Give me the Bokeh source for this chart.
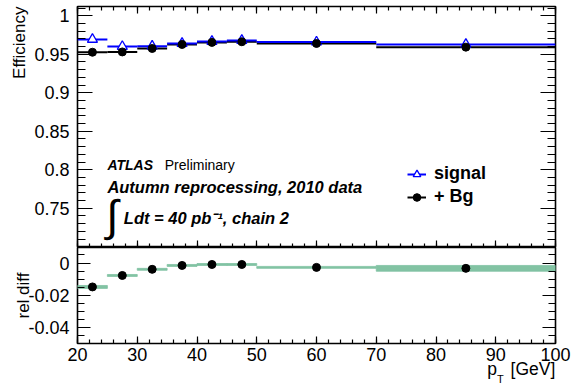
import math
import numpy as np
from bokeh.plotting import figure
from bokeh.models import (Range1d, LinearAxis, FixedTicker, CustomJSTickFormatter,
                          Legend, LegendItem, Label, Title, ColumnDataSource)
from bokeh.layouts import column
from bokeh.embed import file_html
from bokeh.resources import INLINE

# ---- data -------------------------------------------------------------
bin_lo = [20, 25, 30, 35, 40, 45, 50, 70]
bin_hi = [25, 30, 35, 40, 45, 50, 70, 100]
eff_signal = [0.9693, 0.9600, 0.9605, 0.9640, 0.9667, 0.9680, 0.9658, 0.9627]
eff_bg = [0.9526, 0.9530, 0.9575, 0.9627, 0.9654, 0.9662, 0.9640, 0.9592]
rel_diff = [-0.0148, -0.0077, -0.0039, -0.0015, -0.0009, -0.0009, -0.0027, -0.0033]
rel_diff_err = [0.0009, 0.0006, 0.0006, 0.0006, 0.0006, 0.0006, 0.0006, 0.0018]

x_ticks = [20, 30, 40, 50, 60, 70, 80, 90, 100]
eff_ticks = [0.75, 0.8, 0.85, 0.9, 0.95, 1.0]
diff_ticks = [-0.04, -0.02, 0.0]

FONT = "Liberation Sans"
BLUE = "#0000ff"
GREEN = "#82c3a3"

bin_mid = [(a + b) / 2 for a, b in zip(bin_lo, bin_hi)]
src = ColumnDataSource(dict(lo=bin_lo, hi=bin_hi, mid=bin_mid,
                            sig=eff_signal, bg=eff_bg,
                            rd=rel_diff,
                            rd_lo=[r - e for r, e in zip(rel_diff, rel_diff_err)],
                            rd_hi=[r + e for r, e in zip(rel_diff, rel_diff_err)]))

fmt = CustomJSTickFormatter(code="return String(+tick.toFixed(4));")
blank_fmt = CustomJSTickFormatter(code="return '';")

x_minor = list(range(20, 101, 2))
eff_minor = [round(v, 3) for v in np.arange(0.70, 1.0115, 0.01)]
diff_minor = [round(v, 4) for v in np.arange(-0.05, 0.0101, 0.005)]


def style_axis(ax, ticks, minor, major_in, minor_in, labels=True, size="18px", standoff=6):
    ax.ticker = FixedTicker(ticks=ticks, minor_ticks=minor)
    ax.major_tick_in = major_in
    ax.major_tick_out = 0
    ax.minor_tick_in = minor_in
    ax.minor_tick_out = 0
    ax.major_tick_line_color = "black"
    ax.minor_tick_line_color = "black"
    ax.major_tick_line_width = 1.2
    ax.minor_tick_line_width = 1.2
    ax.axis_line_color = None
    if labels:
        ax.formatter = fmt
        ax.major_label_text_font = FONT
        ax.major_label_text_font_size = size
        ax.major_label_text_color = "black"
        ax.major_label_standoff = standoff
    else:
        ax.formatter = blank_fmt
        ax.major_label_text_font_size = "1px"
        ax.major_label_standoff = 0


def title_axis(positions, names, size, standoff):
    """Tickless axis used only to place the pieces of the x-axis title."""
    ax = LinearAxis(ticker=FixedTicker(ticks=positions, minor_ticks=[]),
                    formatter=CustomJSTickFormatter(
                        args=dict(names=names), code="return names[index];"))
    ax.major_tick_in = 0
    ax.major_tick_out = 0
    ax.minor_tick_in = 0
    ax.minor_tick_out = 0
    ax.axis_line_color = None
    ax.major_label_text_font = FONT
    ax.major_label_text_font_size = size
    ax.major_label_text_color = "black"
    ax.major_label_standoff = standoff
    return ax


def base_fig(height, y_range, top, bottom):
    f = figure(width=577, height=height, x_range=Range1d(20, 100), y_range=y_range,
               output_backend="svg", toolbar_location=None,
               min_border_left=77, min_border_right=22,
               min_border_top=top, min_border_bottom=bottom)
    f.grid.visible = False
    f.outline_line_color = "black"
    f.outline_line_width = 1.6
    f.background_fill_color = "white"
    f.border_fill_color = "white"
    return f


def text(x, y, s, size, style="normal", **kw):
    return Label(x=x, y=y, text=s, text_font=FONT, text_font_size=size,
                 text_font_style=style, text_color="black", **kw)


# ---- upper panel: efficiencies ----------------------------------------
p1 = base_fig(247, Range1d(0.699, 1.012), 6, 0)
style_axis(p1.xaxis[0], x_ticks, x_minor, 7, 4, labels=False)
style_axis(p1.yaxis[0], eff_ticks, eff_minor, 15, 8, standoff=8)
top_ax = LinearAxis()
style_axis(top_ax, x_ticks, x_minor, 7, 4, labels=False)
p1.add_layout(top_ax, "above")
right_ax = LinearAxis()
style_axis(right_ax, eff_ticks, eff_minor, 15, 8, labels=False)
p1.add_layout(right_ax, "right")

eff_title = Title(text="Efficiency", align="right", text_font=FONT, text_font_size="17px",
                  text_font_style="normal", text_color="black")
if "standoff" in eff_title.properties():
    eff_title.standoff = 6
p1.add_layout(eff_title, "left")

bg_line = p1.segment(x0="lo", x1="hi", y0="bg", y1="bg", source=src,
                     line_color="black", line_width=2)
sig_line = p1.segment(x0="lo", x1="hi", y0="sig", y1="sig", source=src,
                      line_color=BLUE, line_width=2)
sig_pts = p1.scatter(x="mid", y="sig", source=src, marker="triangle", size=10,
                     line_color=BLUE, fill_color="white", line_width=1.3)
bg_pts = p1.scatter(x="mid", y="bg", source=src, marker="circle", size=8,
                    line_color="black", fill_color="black")

legend = Legend(items=[LegendItem(label="signal", renderers=[sig_line, sig_pts]),
                       LegendItem(label="+ Bg", renderers=[bg_line, bg_pts])],
                location=(330, 40), orientation="vertical",
                label_text_font=FONT, label_text_font_size="18px",
                label_text_font_style="bold", label_text_color="black",
                glyph_width=19, glyph_height=20, label_height=20,
                label_standoff=8, spacing=2, padding=0, margin=0,
                border_line_alpha=0, background_fill_alpha=0)
p1.add_layout(legend)

p1.add_layout(text(25.0, 0.806, "ATLAS", "14px", "bold italic", text_baseline="middle"))
p1.add_layout(text(34.6, 0.806, "Preliminary", "14px", text_baseline="middle"))
p1.add_layout(text(25.0, 0.7776, "Autumn reprocessing, 2010 data", "16.5px", "bold italic",
                   text_baseline="middle"))
p1.add_layout(text(24.8, 0.741, "\u222b", "44px", text_baseline="middle"))
p1.add_layout(text(27.75, 0.7369, "Ldt = 40 pb\u207b\u00b9, chain 2", "16.5px", "bold italic",
                   text_baseline="middle"))

# ---- lower panel: relative difference ---------------------------------
p2 = base_fig(142, Range1d(-0.0498, 0.0096), 0, 46)
style_axis(p2.xaxis[0], x_ticks, x_minor, 7, 4, standoff=4)
style_axis(p2.yaxis[0], diff_ticks, diff_minor, 13, 7, standoff=8)
p2.yaxis[0].axis_label = "rel diff"
p2.yaxis[0].axis_label_text_font = FONT
p2.yaxis[0].axis_label_text_font_size = "17px"
p2.yaxis[0].axis_label_text_font_style = "normal"
p2.yaxis[0].axis_label_text_color = "black"
p2.yaxis[0].axis_label_standoff = -8
right_ax2 = LinearAxis()
style_axis(right_ax2, diff_ticks, diff_minor, 13, 7, labels=False)
p2.add_layout(right_ax2, "right")

# x-axis title "p_T [GeV]", right-aligned under the tick labels
p2.add_layout(title_axis([89.4, 96.23], ["p", "[GeV]"], "17.5px", -5), "below")
p2.add_layout(title_axis([90.76], ["T"], "11px", -9), "below")

p2.quad(left="lo", right="hi", bottom="rd_lo", top="rd_hi", source=src,
        fill_color=GREEN, line_color=GREEN, line_width=0.8)
p2.scatter(x="mid", y="rd", source=src, marker="circle", size=8,
           line_color="black", fill_color="black")

layout = column(p1, p2, spacing=0)
open("out.html", "w").write(file_html(layout, INLINE))
